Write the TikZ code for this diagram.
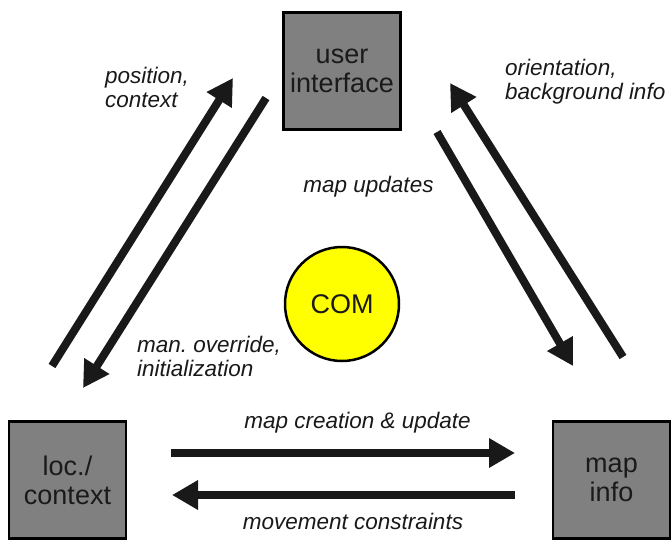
\documentclass[tikz,border=0pt]{standalone}
\usepackage{fontspec}
\setmainfont{Liberation Sans}
\usetikzlibrary{arrows.meta}
\definecolor{boxgray}{HTML}{808080}
\definecolor{comyellow}{HTML}{FFFF00}
\definecolor{boxtext}{HTML}{1A1A1A}
\begin{document}
\begin{tikzpicture}[x=1pt,y=-1pt,
  block/.style={draw=black, line width=2.5pt, fill=boxgray, minimum width=117pt, minimum height=117pt, inner sep=0pt, align=center, font=\fontsize{27}{29}\selectfont, text=boxtext},
  comnode/.style={circle, draw=black, line width=2.5pt, fill=comyellow, minimum size=114pt, inner sep=0pt, font=\fontsize{27}{29}\selectfont, text=boxtext},
  bigarrow/.style={line width=8pt, draw=black!90, -{Triangle[length=26pt,width=28pt]}},
  lbl/.style={font=\fontsize{22.5}{24}\selectfont\itshape, align=left, inner sep=0pt, text=black!90}
]
\useasboundingbox (0,0) rectangle (671,546);
% nodes
\node[block] (ui) at (342,71) {user\\interface};
\node[block] (loc) at (67.5,480) {loc./\\context};
\node[block] (map) at (611.5,480) {map\\info};
\node[comnode] (com) at (342,304) {COM};
% arrow end points
\coordinate (a1s) at (52,366);
\coordinate (a1e) at (233,78);
\coordinate (a2s) at (266,98);
\coordinate (a2e) at (83,388);
\coordinate (a3s) at (437,132);
\coordinate (a3e) at (573,366);
\coordinate (a4s) at (623,357);
\coordinate (a4e) at (450,83);
\coordinate (a5s) at (171,453);
\coordinate (a5e) at (515,453);
\coordinate (a6s) at (515,495);
\coordinate (a6e) at (172,495);
% arrows
\draw[bigarrow] (a1s) -- (a1e);
\draw[bigarrow] (a2s) -- (a2e);
\draw[bigarrow] (a3s) -- (a3e);
\draw[bigarrow] (a4s) -- (a4e);
\draw[bigarrow] (a5s) -- (a5e);
\draw[bigarrow] (a6s) -- (a6e);
% labels
\node[lbl, anchor=west] (l1) at (105,87) {position,\\context};
\node[lbl, anchor=west] (l2) at (505,82) {orientation,\\background info};
\node[lbl] (l3) at (368.5,187) {map updates};
\node[lbl, anchor=west] (l4) at (137,356) {man.\ override,\\initialization};
\node[lbl] (l5) at (357.5,423) {map creation \& update};
\node[lbl] (l6) at (353,521) {movement constraints};
\end{tikzpicture}
\end{document}
